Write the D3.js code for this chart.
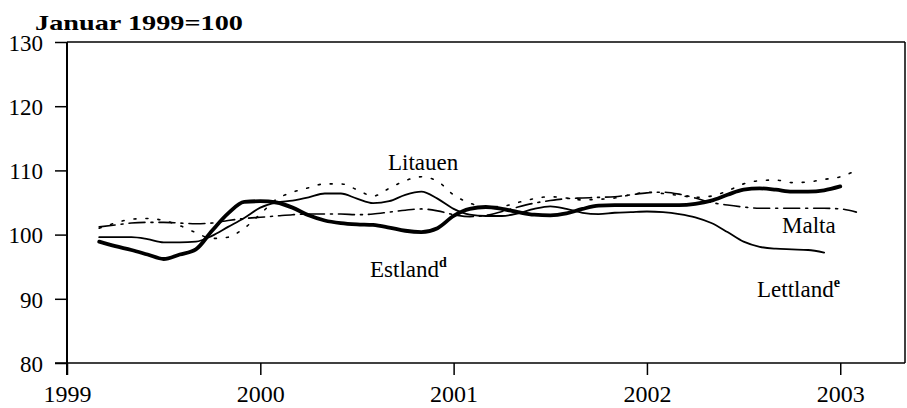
<!DOCTYPE html>
<html><head><meta charset="utf-8">
<script src="https://cdn.jsdelivr.net/npm/d3@7"></script>
<style>
html,body{margin:0;padding:0;background:#fff;}
svg{display:block;}
text{font-family:"Liberation Serif","Times New Roman",serif;fill:#000;}
</style></head>
<body>
<svg id="chart" width="907" height="408"></svg>
<script>
// Monthly observations, March 1999 .. February 2003 (decimal year of each month)
const months = d3.range(48).map(i => 1999 + 2/12 + i/12);
const estland = [98.9,98.2,97.6,96.9,96.2,96.9,97.7,100.6,103.3,105.1,105.2,105.0,104.2,103.0,102.2,101.8,101.6,101.5,101.1,100.6,100.4,101.0,102.9,104.0,104.3,104.0,103.5,103.1,103.0,103.3,104.0,104.5,104.6,104.6,104.6,104.6,104.6,104.8,105.3,106.2,107.0,107.2,107.0,106.7,106.7,106.9,107.5,null];
const lettland = [99.6,99.6,99.6,99.3,98.8,98.8,98.9,99.8,101.2,102.6,104.2,105.0,105.3,105.8,106.4,106.4,105.6,104.9,105.2,106.2,106.7,105.6,104.0,103.1,102.9,102.9,103.3,104.0,104.4,104.0,103.4,103.2,103.4,103.5,103.6,103.5,103.2,102.7,101.8,100.4,98.9,98.1,97.8,97.7,97.6,97.2,null,null];
const litauen = [101.0,101.8,102.4,102.5,102.2,101.4,100.3,99.4,99.6,101.0,103.2,105.5,106.6,107.3,107.9,107.9,107.0,106.0,107.2,108.4,109.0,108.3,106.2,104.9,104.3,104.4,105.0,105.6,105.9,105.7,105.4,105.5,105.7,106.2,106.6,106.4,106.1,105.8,106.0,106.8,107.9,108.4,108.5,108.1,108.2,108.6,109.0,110.0];
const malta = [101.2,101.5,101.8,101.9,101.9,101.8,101.7,101.8,102.2,102.5,102.7,102.9,103.1,103.2,103.2,103.2,103.1,103.2,103.5,103.8,104.0,103.7,103.1,102.8,103.0,103.6,104.3,104.9,105.3,105.6,105.7,105.8,105.9,106.2,106.5,106.6,106.3,105.7,105.0,104.6,104.3,104.1,104.1,104.1,104.1,104.1,104.0,103.5];

const yTicks = [80, 90, 100, 110, 120, 130];
const xTicks = [1999, 2000, 2001, 2002, 2003];
const unitLabel = "Januar 1999=100";

const svg = d3.select("#chart");
const x = d3.scaleLinear().domain([1999, 2003.335]).range([67, 905]);
const y = d3.scaleLinear().domain([80, 130]).range([363, 42]);

// frame
svg.append("line").attr("x1", x(1999)).attr("x2", x(2003.335)).attr("y1", y(130)).attr("y2", y(130)).attr("stroke", "#000").attr("stroke-width", 1.5);
svg.append("line").attr("x1", x(2003.335)).attr("x2", x(2003.335)).attr("y1", y(130)).attr("y2", y(80)).attr("stroke", "#000").attr("stroke-width", 1.5);

// y axis
const yAxis = d3.axisLeft(y).tickValues(yTicks).tickSize(12).tickPadding(12).tickFormat(d3.format("d"));
const gy = svg.append("g").attr("transform", `translate(${x(1999)},0)`).call(yAxis);
gy.select(".domain").remove();
gy.selectAll(".tick line").attr("stroke", "#000").attr("stroke-width", 1.5);
gy.selectAll(".tick text").attr("font-size", 23).attr("font-family", "Liberation Serif").attr("fill", "#000").attr("dy", "0.36em");
svg.append("line").attr("x1", x(1999)).attr("x2", x(1999)).attr("y1", y(130)).attr("y2", y(80) + 12).attr("stroke", "#000").attr("stroke-width", 2);

// x axis
const xAxis = d3.axisBottom(x).tickValues(xTicks).tickSize(12).tickPadding(10).tickFormat(d3.format("d"));
const gx = svg.append("g").attr("transform", `translate(0,${y(80)})`).call(xAxis);
gx.select(".domain").remove();
gx.selectAll(".tick line").attr("stroke", "#000").attr("stroke-width", 1.5);
gx.selectAll(".tick text").attr("font-size", 24).attr("font-family", "Liberation Serif").attr("fill", "#000");
svg.append("line").attr("x1", x(1999) - 12).attr("x2", x(2003.335)).attr("y1", y(80)).attr("y2", y(80)).attr("stroke", "#000").attr("stroke-width", 1.5);

// unit label
svg.append("text").attr("x", 35).attr("y", 30).attr("font-size", 21).attr("font-weight", "bold")
  .attr("textLength", 208).attr("lengthAdjust", "spacingAndGlyphs").text(unitLabel);

const line = d3.line().defined(d => d[1] != null).x(d => x(d[0])).y(d => y(d[1])).curve(d3.curveMonotoneX);
const series = [
  {v: malta, w: 1.6, dash: "16,6,2,6"},
  {v: litauen, w: 1.6, dash: "2,10"},
  {v: lettland, w: 1.8, dash: null},
  {v: estland, w: 3.8, dash: null}
];
series.forEach(s => {
  svg.append("path").datum(months.map((m, i) => [m, s.v[i]]))
    .attr("d", line).attr("fill", "none").attr("stroke", "#000")
    .attr("stroke-width", s.w).attr("stroke-dasharray", s.dash)
    .attr("stroke-linejoin", "round").attr("stroke-linecap", "round");
});

// labels
function lab(txt, sup, lx, ly) {
  const t = svg.append("text").attr("x", lx).attr("y", ly).attr("font-size", 23).text(txt);
  if (sup) t.append("tspan").attr("font-size", 14).attr("font-weight", "bold").attr("dy", -10).text(sup);
}
lab("Litauen", null, 388, 170);
lab("Estland", "d", 370, 277);
lab("Malta", null, 782, 233);
lab("Lettland", "e", 757, 297);
</script>
</body></html>
